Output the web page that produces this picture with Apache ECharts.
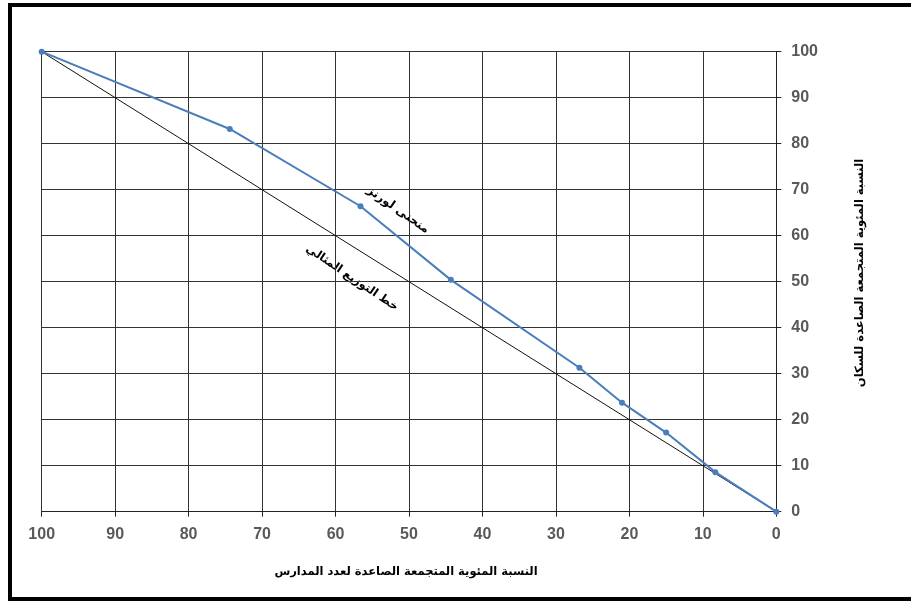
<!DOCTYPE html>
<html>
<head>
<meta charset="utf-8">
<script src="https://cdn.jsdelivr.net/npm/echarts@6/dist/echarts.min.js"></script>
<style>
html,body{margin:0;padding:0;background:#fff;}
#c{width:911px;height:601px;}
</style>
</head>
<body>
<div id="c"></div>
<script>
// Cumulative % of schools (x) and cumulative % of population (y)
var schoolsPct = [100, 74.4, 56.6, 44.3, 26.8, 21.0, 15.0, 8.3, 0];
var populationPct = [100, 83.2, 66.4, 50.4, 31.3, 23.7, 17.2, 8.6, 0];
var equalityX = [100, 0];
var equalityY = [100, 0];
var xAxisName = 'النسبة المئوية المتجمعة الصاعدة لعدد المدارس';
var yAxisName = 'النسبة المئوية المتجمعة الصاعدة للسكان';
var lorenzLabel = 'منحنى لورنز';
var equalityLabel = 'خط التوزيع المثالي';

var lorenzData = schoolsPct.map(function (x, i) { return [x, populationPct[i]]; });
var equalityData = equalityX.map(function (x, i) { return [x, equalityY[i]]; });

var chart = echarts.init(document.getElementById('c'), null, {renderer: 'canvas'});
var labelStyle = {color: '#595959', fontSize: 16, fontWeight: 'bold', fontFamily: 'Liberation Sans, Arial, sans-serif'};
var arabicFont = 'DejaVu Sans, sans-serif';
chart.setOption({
  animation: false,
  backgroundColor: '#fff',
  grid: {left: 41.7, right: 134.7, top: 51.7, bottom: 89.3, containLabel: false},
  xAxis: {
    type: 'value', min: 0, max: 100, interval: 10, inverse: true,
    axisLine: {show: true, lineStyle: {color: '#222', width: 1}},
    axisTick: {show: true, length: 5, lineStyle: {color: '#222'}},
    axisLabel: Object.assign({margin: 15}, labelStyle),
    splitLine: {show: true, lineStyle: {color: '#333', width: 1}}
  },
  yAxis: {
    type: 'value', min: 0, max: 100, interval: 10, position: 'right',
    axisLine: {show: true, lineStyle: {color: '#222', width: 1}},
    axisTick: {show: true, length: 5, lineStyle: {color: '#222'}},
    axisLabel: Object.assign({margin: 15}, labelStyle),
    splitLine: {show: true, lineStyle: {color: '#333', width: 1}}
  },
  series: [
    {
      type: 'line', data: equalityData, showSymbol: false, symbol: 'none',
      lineStyle: {color: '#111', width: 1}, z: 3
    },
    {
      type: 'line', data: lorenzData, symbol: 'circle', symbolSize: 6,
      itemStyle: {color: '#4a7ebb'},
      lineStyle: {color: '#4a7ebb', width: 2}, z: 4
    }
  ],
  graphic: [
    {type: 'rect', shape: {x: 10, y: 5, width: 940, height: 594}, style: {fill: 'none', stroke: '#000', lineWidth: 4}, z: 100},
    {type: 'text', x: 406, y: 572, style: {text: xAxisName, font: 'bold 11.5px ' + arabicFont, fill: '#000', align: 'center', verticalAlign: 'middle'}},
    {type: 'text', x: 860, y: 273, rotation: Math.PI / 2, style: {text: yAxisName, font: 'bold 11.5px ' + arabicFont, fill: '#000', align: 'center', verticalAlign: 'middle'}},
    {type: 'text', x: 398, y: 210, rotation: -35 * Math.PI / 180, style: {text: lorenzLabel, font: 'bold 12px ' + arabicFont, fill: '#000', align: 'center', verticalAlign: 'middle'}},
    {type: 'text', x: 352, y: 278, rotation: -34 * Math.PI / 180, style: {text: equalityLabel, font: 'bold 11.5px ' + arabicFont, fill: '#000', align: 'center', verticalAlign: 'middle'}}
  ]
});
</script>
</body>
</html>
